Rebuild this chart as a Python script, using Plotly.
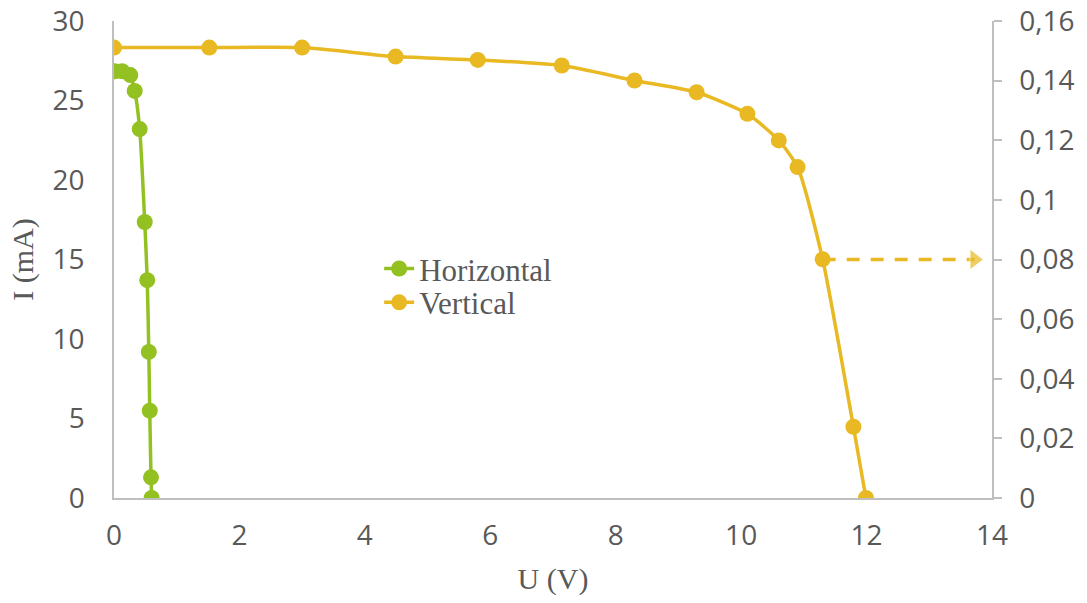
import plotly.graph_objects as go

# Horizontal series (U in V, I in mA)
horiz_u = [0.01, 0.13, 0.26, 0.33, 0.41, 0.49, 0.53, 0.555, 0.57, 0.59, 0.60]
horiz_i = [26.84, 26.84, 26.6, 25.6, 23.2, 17.36, 13.7, 9.19, 5.49, 1.3, 0.0]

# Vertical series (U in V, I in mA)
vert_u = [0.0, 1.52, 3.0, 4.49, 5.80, 7.14, 8.30, 9.29, 10.10, 10.60, 10.90, 11.30, 11.79, 11.99]
vert_i = [28.33, 28.33, 28.33, 27.76, 27.55, 27.2, 26.26, 25.52, 24.16, 22.49, 20.81, 15.01, 4.48, 0.0]

# Dashed arrow towards the right axis (secondary axis values)
arrow_u = [11.30, 13.72]
arrow_y2 = [0.08, 0.08]

# Tick labels
x_ticks = [0, 2, 4, 6, 8, 10, 12, 14]
y_ticks = [0, 5, 10, 15, 20, 25, 30]
y2_ticks = [0, 0.02, 0.04, 0.06, 0.08, 0.10, 0.12, 0.14, 0.16]
y2_labels = ["0", "0,02", "0,04", "0,06", "0,08", "0,1", "0,12", "0,14", "0,16"]

GREEN = "#92C121"
YELLOW = "#E8B922"
TXT = "#595959"
AX = "#BFBFBF"

fig = go.Figure()
fig.add_trace(go.Scatter(
    x=horiz_u, y=horiz_i, name="Horizontal", mode="lines+markers",
    line=dict(color=GREEN, width=3.5, shape="spline", smoothing=0.6),
    marker=dict(color=GREEN, size=16), hoverinfo="skip", legend="legend"))
fig.add_trace(go.Scatter(
    x=vert_u, y=vert_i, name="Vertical", mode="lines+markers",
    line=dict(color=YELLOW, width=3.5, shape="spline", smoothing=0.6),
    marker=dict(color=YELLOW, size=16), hoverinfo="skip", legend="legend2"))
fig.add_trace(go.Scatter(
    x=arrow_u, y=arrow_y2, yaxis="y2", mode="lines+markers", showlegend=False,
    line=dict(color=YELLOW, width=3.5, dash="13px,11px"),
    marker=dict(color=YELLOW, size=[0, 18], symbol="triangle-right"),
    hoverinfo="skip"))

tick_font = dict(family="Open Sans", size=28, color=TXT)
title_font = dict(family="Liberation Serif", size=30, color=TXT)
leg_font = dict(family="Liberation Serif", size=31, color=TXT)

fig.update_layout(
    width=1087, height=603,
    margin=dict(l=113.5, r=95, t=20.5, b=105, autoexpand=False),
    plot_bgcolor="white", paper_bgcolor="white",
    xaxis=dict(range=[0, 14], tickvals=x_ticks, showgrid=False, zeroline=False,
               showline=True, linecolor=AX, linewidth=1.5, ticks="",
               tickfont=tick_font, ticklabelstandoff=12, automargin=False,
               ticklabeloverflow="allow",
               title=dict(text="U (V)", font=title_font, standoff=16)),
    yaxis=dict(range=[0, 30], tickvals=y_ticks, showgrid=False, zeroline=False,
               showline=True, linecolor=AX, linewidth=1.5, ticks="",
               tickfont=tick_font, ticklabelstandoff=22, automargin=False,
               ticklabeloverflow="allow",
               title=dict(text="I (mA)", font=title_font, standoff=10)),
    yaxis2=dict(range=[0, 0.16], tickvals=y2_ticks, ticktext=y2_labels,
                overlaying="y", side="right", showgrid=False, zeroline=False,
                showline=True, linecolor=AX, linewidth=1.5, automargin=False,
                ticks="outside", ticklen=8, tickcolor=AX, tickwidth=1.5,
                tickfont=tick_font, ticklabelstandoff=12,
                ticklabeloverflow="allow"),
    legend=dict(x=0.302, y=0.537, xanchor="left", yanchor="top",
                font=leg_font, bgcolor="rgba(0,0,0,0)"),
    legend2=dict(x=0.302, y=0.466, xanchor="left", yanchor="top",
                 font=leg_font, bgcolor="rgba(0,0,0,0)"),
    showlegend=True,
)

fig.write_html("out.html", config={"displayModeBar": False},
               post_script="document.body.style.margin='0';")
